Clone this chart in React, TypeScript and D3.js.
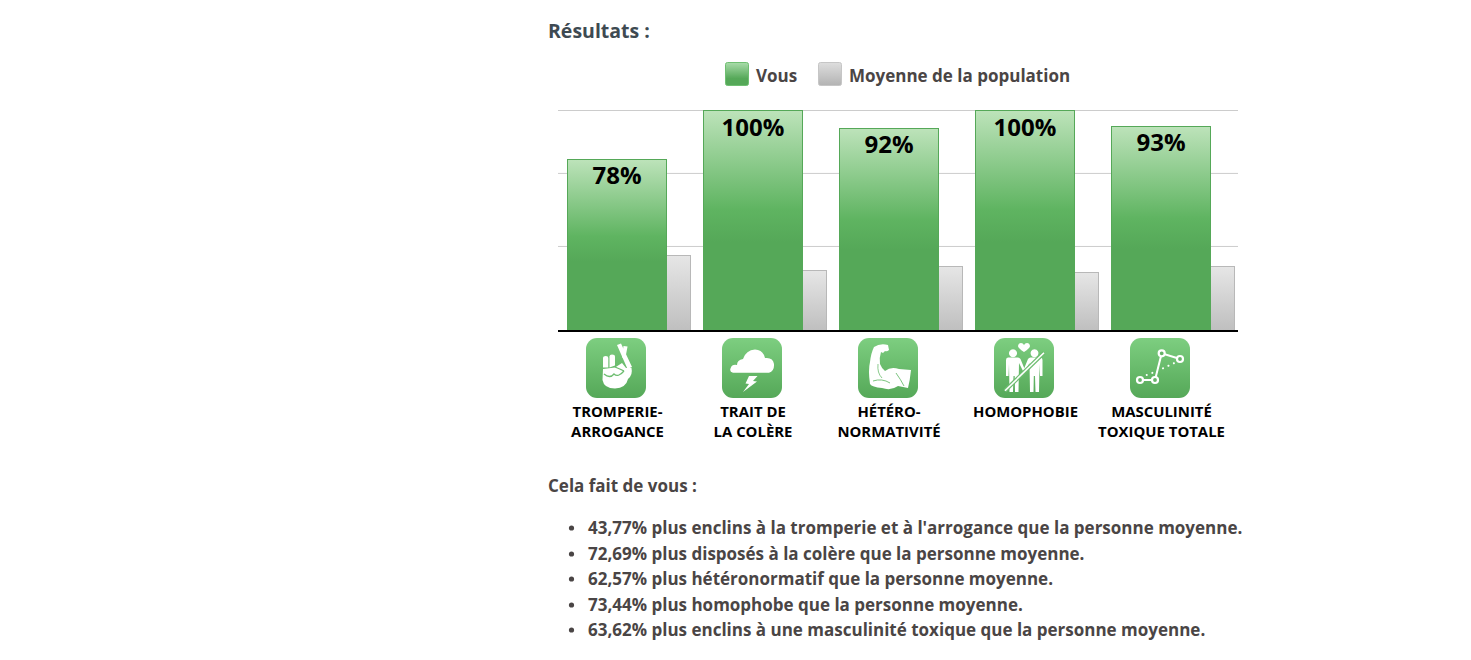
import { useRef, useEffect } from 'react';
import * as d3 from 'd3';

const WIDTH = 1471;
const HEIGHT = 660;
const FONT = '"Open Sans", sans-serif';

const categories = ['tromperie', 'colere', 'hetero', 'homophobie', 'masculinite'];
const youValues = [78, 100, 92, 100, 93];
const averageValues = [34.2, 27.3, 29.2, 26.4, 29.2];
const gridValues = [38.2, 71.4, 100];
const categoryLabels = [
	['TROMPERIE-', 'ARROGANCE'],
	['TRAIT DE', 'LA COLÈRE'],
	['HÉTÉRO-', 'NORMATIVITÉ'],
	['HOMOPHOBIE'],
	['MASCULINITÉ', 'TOXIQUE TOTALE'],
];
const legendLabels = ['Vous', 'Moyenne de la population'];
const resultLines = [
	"43,77% plus enclins à la tromperie et à l'arrogance que la personne moyenne.",
	'72,69% plus disposés à la colère que la personne moyenne.',
	'62,57% plus hétéronormatif que la personne moyenne.',
	'73,44% plus homophobe que la personne moyenne.',
	'63,62% plus enclins à une masculinité toxique que la personne moyenne.',
];

// icon glyphs, in the 60x60 box of each tile
const GREEN_LINE = '#6dbd70';
const ICON_FILLS: Record<string, string[]> = {
	tromperie: [
		'M31 7 L35 5.500 L46 29 L41.500 31 Z',
		'M37.500 8 L41.500 8.500 L39 22 L36 19 Z',
		'M17 20 Q17 18 19.800 18 Q22.300 18 22.300 20 L22.300 29.500 L17 29.500 Z',
		'M23.500 18.500 Q23.500 16.500 26 16.500 Q29 16.500 29 18.500 L29 27.500 L23.500 29.500 Z',
		'M17 31 L29 29.500 L36 25 L40 30 L45.500 30 Q47 37 42 41 Q40 50 29 50.500 Q18 50.500 16.500 42 Z',
	],
	colere: [
		'M11 34.700 Q7 34 8.700 30 Q10 26 15 27 Q15 22 21 21 Q24 12 33 11.500 Q41 12 43 20 Q51 19 52 26 Q52.500 33 47 34.700 Z',
		'M27 38 L35.500 38 L31 43 L35 43.500 L21 54 L27 46 L23.500 45.500 Z',
	],
	hetero: [
		'M16 9 Q22 5 30 7 L31 12 Q29 14 27 13 L25 15 L23 14 Q21 20 22 26 Q24 31 27 33 Q33 28 41 31 L53 32 Q52 42 50 50 L40 48 Q33 53 24 50 Q14 49 12 46 Q10 32 12 24 Q13 15 16 9 Z',
	],
	homophobie: [
		'M30 14 Q24 10 24 8 Q24.500 5 27 5 Q29 5 30 7 Q31 5 33 5 Q35.500 5 36 8 Q36 10 30 14 Z',
		'M19 11.300 a4 4 0 1 0 0.010 0 Z',
		'M40.500 11.300 a4 4 0 1 0 0.010 0 Z',
		'M14 19.500 L24 19.500 Q25.500 19.500 26.500 21 L31 32 L29 33 L25 25 L24.500 54 L21 54 L20.700 38 L19.500 38 L19 54 L15.500 54 L15 26 L14.500 38 L12 38 L12 22 Q12 19.500 14 19.500 Z',
		'M46.500 19.500 L36.500 19.500 Q35 19.500 34 21 L29.500 32 L31.500 33 L35.500 25 L36 54 L39.500 54 L39.800 38 L41 38 L41.500 54 L45 54 L45.500 26 L46 38 L48.500 38 L48.500 22 Q48.500 19.500 46.500 19.500 Z',
	],
	masculinite: [],
};
const ICON_LINES: Record<string, [string, number][]> = {
	tromperie: [['M18 36 Q24 41 28 36 Q32 40 38 33', 1.3], ['M29 29 Q34 31 38 33', 1.3]],
	colere: [],
	hetero: [['M15 43 Q24 40 32 45', 0.9], ['M38 35 Q43 42 46 48', 0.9], ['M20 26 Q19 35 24 40', 0.8]],
	homophobie: [],
	masculinite: [],
};
const LINK_PATH = 'M10 42 L25 42 L31.700 15.300 L50 21';
const DOTTED_TRAIL = 'M16.700 37 L22.700 34.700 M33 30.300 L45 24.700';
const NODE_POINTS = [[10, 42], [25, 42], [31.7, 15.3], [50, 21]];
const SLASH = 'M11 52.700 L50 14.700';

const App = () => {
	const ref = useRef<SVGSVGElement | null>(null);

	useEffect(() => {
		const svg = d3.select(ref.current);
		svg.selectAll('*').remove();

		const x = d3.scaleBand<string>().domain(categories).range([558, 1238]);
		const y = d3.scaleLinear().domain([0, 100]).range([330, 110]);
		const barOffset = 9;
		const barWidth = 100;
		const avgWidth = 24;

		const defs = svg.append('defs');
		const addGradient = (id: string, stops: [number, string][]) => {
			const g = defs.append('linearGradient').attr('id', id)
				.attr('x1', 0).attr('x2', 0).attr('y1', 0).attr('y2', 1);
			stops.forEach(s => g.append('stop').attr('offset', s[0]).attr('stop-color', s[1]));
		};
		addGradient('youBar', [[0, '#bde3ba'], [0.45, '#5fb461'], [0.6, '#55a858'], [1, '#55a858']]);
		addGradient('avgBar', [[0, '#e6e6e6'], [1, '#bfbfbf']]);
		addGradient('youLegend', [[0, '#a9dcaa'], [0.7, '#55a858'], [1, '#55a858']]);
		addGradient('avgLegend', [[0, '#dedede'], [1, '#b3b3b3']]);
		addGradient('tile', [[0, '#7dce80'], [1, '#55a858']]);

		svg.append('text')
			.attr('x', 548).attr('y', 38)
			.attr('font-size', 19.5).attr('font-weight', 700).attr('fill', '#3e4a52')
			.text('Résultats :');

		// legend
		const legendX = [725, 818];
		legendLabels.forEach((label, i) => {
			svg.append('rect')
				.attr('x', legendX[i] + 0.5).attr('y', 62.5)
				.attr('width', 23).attr('height', 23).attr('rx', 2)
				.attr('fill', `url(#${i === 0 ? 'youLegend' : 'avgLegend'})`)
				.attr('stroke', i === 0 ? '#6fbf72' : '#c6c6c6');
			svg.append('text')
				.attr('x', legendX[i] + 31).attr('y', 81.5)
				.attr('font-size', 17).attr('font-weight', 700).attr('fill', '#4a4545')
				.text(label);
		});

		// grid
		svg.append('g').selectAll('line').data(gridValues).join('line')
			.attr('x1', 558).attr('x2', 1238)
			.attr('y1', d => y(d) + 0.5).attr('y2', d => y(d) + 0.5)
			.attr('stroke', '#cccccc');

		// bars
		const group = svg.append('g').selectAll('g').data(categories).join('g')
			.attr('transform', d => `translate(${x(d)},0)`);

		group.append('rect')
			.attr('x', barOffset + barWidth - 0.5)
			.attr('y', (_, i) => Math.ceil(y(averageValues[i])) + 0.5)
			.attr('width', avgWidth)
			.attr('height', (_, i) => 330 - Math.ceil(y(averageValues[i])))
			.attr('fill', 'url(#avgBar)')
			.attr('stroke', '#b8b8b8');

		group.append('rect')
			.attr('x', barOffset + 0.5)
			.attr('y', (_, i) => Math.ceil(y(youValues[i])) + 0.5)
			.attr('width', barWidth - 1)
			.attr('height', (_, i) => 330 - Math.ceil(y(youValues[i])))
			.attr('fill', 'url(#youBar)')
			.attr('stroke', '#55a858');

		group.append('text')
			.attr('x', barOffset + barWidth / 2)
			.attr('y', (_, i) => Math.ceil(y(youValues[i])) + (youValues[i] === 100 ? 26 : 25))
			.attr('text-anchor', 'middle')
			.attr('font-size', 24).attr('font-weight', 700).attr('fill', '#000')
			.text((_, i) => `${youValues[i]}%`);

		// baseline
		svg.append('line')
			.attr('x1', 558).attr('x2', 1238)
			.attr('y1', 331).attr('y2', 331)
			.attr('stroke', '#000').attr('stroke-width', 2);

		// icon tiles
		const tile = group.append('g').attr('transform', 'translate(28,338)');
		tile.append('rect')
			.attr('width', 60).attr('height', 60).attr('rx', 11)
			.attr('fill', 'url(#tile)');
		tile.each(function (d) {
			const t = d3.select(this);
			ICON_FILLS[d].forEach(p => t.append('path').attr('d', p).attr('fill', '#fff'));
			ICON_LINES[d].forEach(s => {
				t.append('path').attr('d', s[0]).attr('fill', 'none')
					.attr('stroke', GREEN_LINE).attr('stroke-width', s[1]);
			});
			if (d === 'homophobie') {
				t.append('path').attr('d', SLASH).attr('fill', 'none').attr('stroke', GREEN_LINE).attr('stroke-width', 4);
				t.append('path').attr('d', SLASH).attr('fill', 'none').attr('stroke', '#fff').attr('stroke-width', 1.6);
			}
			if (d === 'masculinite') {
				t.append('path').attr('d', LINK_PATH).attr('fill', 'none').attr('stroke', '#fff').attr('stroke-width', 2);
				t.append('path').attr('d', DOTTED_TRAIL).attr('fill', 'none').attr('stroke', '#fff')
					.attr('stroke-width', 2).attr('stroke-linecap', 'round').attr('stroke-dasharray', '0.1 5.9');
				NODE_POINTS.forEach(c => {
					t.append('circle').attr('cx', c[0]).attr('cy', c[1]).attr('r', 3)
						.attr('fill', '#66b468').attr('stroke', '#fff').attr('stroke-width', 2.2);
				});
			}
		});

		// category labels
		group.each(function (_, i) {
			const g = d3.select(this);
			categoryLabels[i].forEach((line, k) => {
				g.append('text')
					.attr('x', i === 0 ? 59.5 : i >= 3 ? 59.5 : 59)
					.attr('y', 416.5 + k * 20)
					.attr('text-anchor', 'middle')
					.attr('font-size', 14.9).attr('font-weight', 700).attr('fill', '#000')
					.text(line);
			});
		});

		// text under the chart
		svg.append('text')
			.attr('x', 548).attr('y', 491.5)
			.attr('font-size', 17).attr('font-weight', 700).attr('fill', '#4a4545')
			.text('Cela fait de vous :');

		const lineY = [534, 560, 585, 611, 636];
		resultLines.forEach((line, i) => {
			svg.append('circle')
				.attr('cx', 571.5).attr('cy', lineY[i] - 6).attr('r', 2.6).attr('fill', '#4a4545');
			svg.append('text')
				.attr('x', 588).attr('y', lineY[i])
				.attr('font-size', 17).attr('font-weight', 700).attr('fill', '#4a4545')
				.text(line);
		});
	}, []);

	return (
		<svg
			ref={ref}
			width={WIDTH}
			height={HEIGHT}
			fontFamily={FONT}
			style={{ position: 'absolute', left: 0, top: 0, display: 'block' }}
		/>
	);
};

export default App;
